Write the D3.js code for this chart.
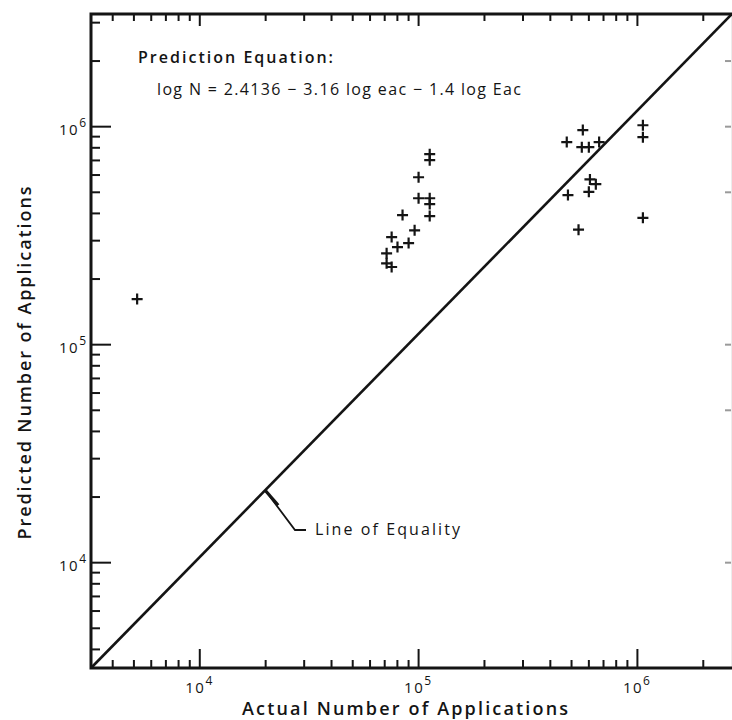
<!DOCTYPE html>
<html>
<head>
<meta charset="utf-8">
<script src="https://cdn.jsdelivr.net/npm/d3@7"></script>
<style>
  body { margin: 0; background: #fff; }
  text { font-family: "Open Sans", "DejaVu Sans", sans-serif; fill: #141414; }
</style>
</head>
<body>
<div id="my_dataviz"></div>
<script>

// Actual vs predicted number of applications
var actualApps = [5200,
  113000, 113000, 100500, 100500, 113000, 113000, 113000, 84900, 96400,
  75700, 90500, 80500, 71800, 71800, 75700,
  478000, 566000, 560000, 603000, 672000, 1065000, 1065000, 610000,
  649000, 603000, 484000, 541000, 1065000]
var predictedApps = [161000,
  744000, 698000, 583000, 467000, 467000, 439000, 387000, 391000, 333000,
  310000, 291000, 279000, 261000, 235000, 226000,
  845000, 960000, 801000, 801000, 845000, 1010000, 890000, 570000,
  542000, 500000, 483000, 335000, 380000]

// axis extents (log scales) and the line of equality drawn corner to corner
var xDomain = [3200, 2720000]
var yDomain = [3270, 3270000]
var equalityX = [3200, 2720000]
var equalityY = [3270, 3270000]

// decades that carry a label, plus the faint ticks on the right border
var majorTicks = [1e4, 1e5, 1e6]
var rightTicks = [1e4, 5e4, 1e5, 5e5, 1e6, 2e6]

// annotation texts
var titleX = "Actual Number of Applications"
var titleY = "Predicted Number of Applications"
var eqTitle = "Prediction Equation:"
var eqText = "log N = 2.4136 \u2212 3.16 log eac \u2212 1.4 log Eac"
var equalityLabel = "Line of Equality"
var equalityLabelAt = 20000

var width = 732, height = 720

var svg = d3.select("#my_dataviz")
  .append("svg")
    .attr("width", width)
    .attr("height", height)

svg.append("rect")
  .attr("width", width)
  .attr("height", height)
  .attr("fill", "#fff")

// ----------------- //
// Scales
// ----------------- //
var x = d3.scaleLog()
  .domain(xDomain)
  .range([91, 732])

var y = d3.scaleLog()
  .domain(yDomain)
  .range([668, 14])

function isMajor(d) {
  var l = Math.log10(d)
  return Math.abs(l - Math.round(l)) < 1e-9
}
var minorX = x.ticks().filter(function(d) { return !isMajor(d) })
var minorY = y.ticks().filter(function(d) { return !isMajor(d) })

// draws one axis and removes the domain line (the frame is drawn separately)
function drawAxis(axis, tx, ty, color) {
  var g = svg.append("g")
    .attr("transform", "translate(" + tx + "," + ty + ")")
    .call(axis)
  g.select(".domain").remove()
  g.selectAll(".tick line")
    .attr("stroke", color || "#141414")
    .attr("stroke-width", 2)
  return g
}

// bottom
drawAxis(d3.axisBottom(x).tickValues(minorX).tickSize(-8).tickFormat(""), 0, 668)
var xMaj = drawAxis(d3.axisBottom(x).tickValues(majorTicks).tickSize(-19).tickPadding(7), 0, 668)
// top
drawAxis(d3.axisTop(x).tickValues(minorX).tickSize(-7).tickFormat(""), 0, 14)
drawAxis(d3.axisTop(x).tickValues(majorTicks).tickSize(-12).tickFormat(""), 0, 14)
// left
drawAxis(d3.axisLeft(y).tickValues(minorY).tickSize(-9).tickFormat(""), 91, 0)
var yMaj = drawAxis(d3.axisLeft(y).tickValues(majorTicks).tickSize(-20).tickPadding(7), 91, 0)
// right (faint in the scan)
drawAxis(d3.axisRight(y).tickValues(rightTicks).tickSize(-6).tickFormat(""), 731, 0, "#9a9a9a")

// power-of-ten labels: "10" with a superscript exponent
function powerLabel(sel) {
  sel.text(null)
    .attr("font-size", 15)
    .attr("fill", "#141414")
    .attr("font-family", "Open Sans")
  sel.append("tspan").attr("letter-spacing", 1.5).text("10")
  sel.append("tspan")
    .attr("dy", -8)
    .attr("font-size", 12)
    .text(function(d) { return Math.round(Math.log10(d)) })
}
xMaj.selectAll(".tick text")
  .attr("y", 25)
  .attr("dy", 0)
  .attr("x", -1)
  .call(powerLabel)
yMaj.selectAll(".tick text")
  .attr("x", -5)
  .attr("dy", 0)
  .attr("y", 8)
  .call(powerLabel)

// ----------------- //
// Frame
// ----------------- //
var xr = x.range(), yr = y.range()
svg.append("line")
  .attr("x1", xr[1]).attr("x2", xr[1]).attr("y1", yr[1]).attr("y2", yr[0])
  .attr("stroke", "#d8d8d8").attr("stroke-width", 1)
svg.append("path")
  .attr("d", "M" + xr[1] + "," + yr[1] + "H" + xr[0] + "V" + yr[0] + "H" + xr[1])
  .attr("fill", "none")
  .attr("stroke", "#141414")
  .attr("stroke-width", 3)

// ----------------- //
// Line of equality
// ----------------- //
var eqPts = d3.zip(equalityX, equalityY)
svg.append("path")
  .attr("d", d3.line()
    .x(function(d) { return x(d[0]) })
    .y(function(d) { return y(d[1]) })(eqPts))
  .attr("fill", "none")
  .attr("stroke", "#141414")
  .attr("stroke-width", 2.6)

// leader from the line to its label
var lx0 = Math.log10(equalityX[0]), lx1 = Math.log10(equalityX[1])
var ly0 = Math.log10(equalityY[0]), ly1 = Math.log10(equalityY[1])
var t = (Math.log10(equalityLabelAt) - lx0) / (lx1 - lx0)
var px = x(equalityLabelAt), py = y(Math.pow(10, ly0 + t * (ly1 - ly0)))
var labelX = 315, labelY = 535

svg.append("path")
  .attr("d", "M" + px + "," + py + "L" + (px + 13) + "," + (py + 15))
  .attr("stroke", "#141414")
  .attr("stroke-width", 3.2)
svg.append("path")
  .attr("d", "M" + px + "," + py + "L" + (labelX - 20) + "," + (labelY - 5) + "H" + (labelX - 9))
  .attr("fill", "none")
  .attr("stroke", "#141414")
  .attr("stroke-width", 1.8)

svg.append("text")
  .attr("x", labelX)
  .attr("y", labelY)
  .attr("font-size", 16)
  .attr("font-weight", 500)
  .attr("textLength", 145)
  .attr("lengthAdjust", "spacing")
  .text(equalityLabel)

// ----------------- //
// Points
// ----------------- //
var points = d3.zip(actualApps, predictedApps)
svg.append("g")
  .selectAll("path")
  .data(points)
  .enter()
  .append("path")
    .attr("transform", function(d) { return "translate(" + x(d[0]) + "," + y(d[1]) + ")" })
    .attr("d", "M-5.5,0H5.5M0,-5.5V5.5")
    .attr("stroke", "#141414")
    .attr("stroke-width", 2.2)

// ----------------- //
// Texts
// ----------------- //
svg.append("text")
  .attr("x", 138)
  .attr("y", 63)
  .attr("font-size", 16)
  .attr("font-weight", 600)
  .attr("textLength", 195)
  .attr("lengthAdjust", "spacing")
  .text(eqTitle)

svg.append("text")
  .attr("x", 157)
  .attr("y", 95)
  .attr("font-size", 16)
  .attr("font-weight", 500)
  .attr("textLength", 364)
  .attr("lengthAdjust", "spacing")
  .text(eqText)

svg.append("text")
  .attr("x", 405)
  .attr("y", 715)
  .attr("text-anchor", "middle")
  .attr("font-size", 18)
  .attr("font-weight", 600)
  .attr("textLength", 326)
  .attr("lengthAdjust", "spacing")
  .text(titleX)

svg.append("text")
  .attr("transform", "translate(31,363) rotate(-90)")
  .attr("text-anchor", "middle")
  .attr("font-size", 18)
  .attr("font-weight", 600)
  .attr("textLength", 353)
  .attr("lengthAdjust", "spacing")
  .text(titleY)

</script>
</body>
</html>
